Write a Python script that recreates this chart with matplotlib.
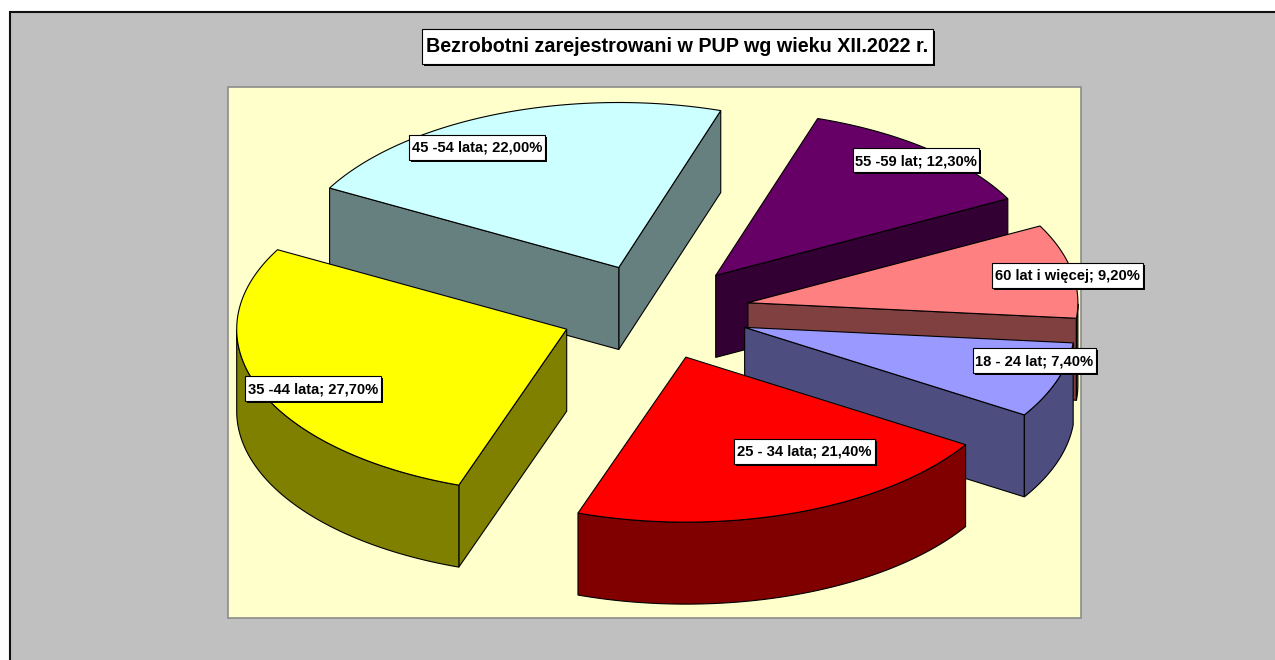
import numpy as np
import matplotlib
matplotlib.use('Agg')
import matplotlib.pyplot as plt
from matplotlib.patches import Polygon, Rectangle

plt.rcParams['font.family'] = ['Liberation Sans', 'DejaVu Sans']

# slices, clockwise from the start angle
categories = ['55 -59 lat', '60 lat i więcej', '18 - 24 lat', '25 - 34 lata', '35 -44 lata', '45 -54 lata']
values = [12.30, 9.20, 7.40, 21.40, 27.70, 22.00]
top_colors = ['#660066', '#ff8080', '#9999ff', '#ff0000', '#ffff00', '#ccffff']
side_colors = ['#330033', '#804040', '#4d4d80', '#800000', '#808000', '#668080']
title = 'Bezrobotni zarejestrowani w PUP wg wieku XII.2022 r.'

# label box centres in pixels, same order as categories
label_pos = [(916, 160), (1067, 275), (1034, 360), (804, 451), (313, 388), (477, 147)]
label_size = [(126, 24), (151, 25), (123, 25), (141, 25), (136, 25), (136, 25)]

# pie geometry in pixels
cx, cy = 654, 312
rx, ry = 330, 165
depth = 82
explode = 0.29
start_angle = 72
draw_order = [5, 0, 1, 4, 2, 3]
nudge_x = [0, 0, 0, 0, 2, 0]

fig = plt.figure(figsize=(12.75, 6.6), dpi=100, facecolor='white')
ax = fig.add_axes([0, 0, 1, 1])
ax.set_xlim(0, 1275)
ax.set_ylim(660, 0)
ax.axis('off')

# chart background and plot area
ax.add_patch(Rectangle((9.5, 12), 1275, 660, fc='#c0c0c0', ec='#111111', lw=1.5, zorder=1))
ax.add_patch(Rectangle((228, 87), 853, 531, fc='#ffffcc', ec='#8c8c8c', lw=1.2, zorder=2))


def arc(t1, t2, ox, oy, n=80):
    t = np.radians(np.linspace(t1, t2, n))
    return np.column_stack([ox + rx * np.cos(t), oy - ry * np.sin(t)])


def draw_slice(t1, t2, top, side, z, shift):
    mid = np.radians((t1 + t2) / 2)
    ox = cx + shift + explode * rx * np.cos(mid)
    oy = cy - explode * ry * np.sin(mid)
    apex = np.array([ox, oy])
    pts = arc(t1, t2, ox, oy)
    inner = pts[len(pts) // 2]
    down = np.array([0, depth])

    # cut faces, only the ones that look towards the viewer
    for p in (pts[0], pts[-1]):
        edge = p - apex
        a = edge[0] * down[1] - edge[1] * down[0]
        b = edge[0] * (inner - apex)[1] - edge[1] * (inner - apex)[0]
        if a * b < 0:
            quad = [apex, p, p + down, apex + down]
            ax.add_patch(Polygon(quad, fc=side, ec='black', lw=0.8, zorder=z))

    # outer wall, front half of the ellipse only
    front = pts[np.sin(np.radians(np.linspace(t1, t2, len(pts)))) <= 0]
    if len(front) > 1:
        wall = np.vstack([front, (front + down)[::-1]])
        ax.add_patch(Polygon(wall, fc=side, ec='black', lw=0.8, zorder=z))

    ax.add_patch(Polygon(np.vstack([apex, pts]), fc=top, ec='black', lw=0.8, zorder=z))


def text_box(x, y, w, h, s, size, z):
    ax.add_patch(Rectangle((x - w / 2 + 2, y - h / 2 + 2), w, h, fc='black', ec='none', zorder=z))
    ax.add_patch(Rectangle((x - w / 2, y - h / 2), w, h, fc='white', ec='black', lw=0.8, zorder=z))
    ax.text(x, y + 1, s, fontsize=size, fontweight='bold', ha='center', va='center', zorder=z + 1)


# angles come from the values
ends = start_angle - np.cumsum(values) * 3.6
starts = np.concatenate([[start_angle], ends[:-1]])

for k, i in enumerate(draw_order):
    draw_slice(ends[i], starts[i], top_colors[i], side_colors[i], 5 + k, nudge_x[i])

for i, cat in enumerate(categories):
    s = f'{cat}; {values[i]:.2f}%'.replace('.', ',')
    text_box(label_pos[i][0], label_pos[i][1], label_size[i][0], label_size[i][1], s, 10.6, 20)

text_box(677, 46, 511, 35, title, 14.2, 30)

fig.savefig('out.png', dpi=100, facecolor='white')
